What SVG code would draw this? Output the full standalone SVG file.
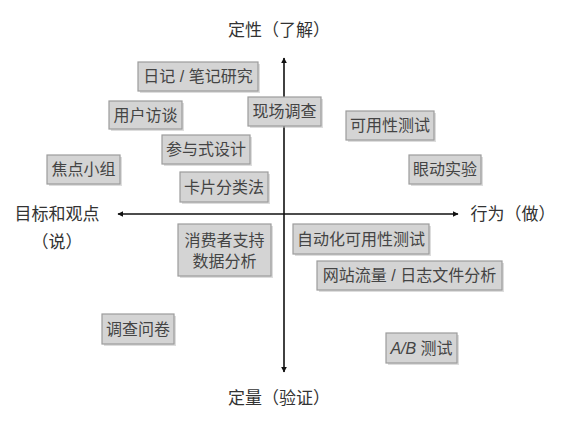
<svg xmlns="http://www.w3.org/2000/svg" width="569" height="428" viewBox="0 0 569 428">
<style>
.box rect.b{fill:#d4d4d4;stroke:#9c9c9c;stroke-width:1.2}
.box rect.s{fill:#bcbcbc;opacity:0.5}
.box text{font-family:"Liberation Sans","Noto Sans CJK SC",sans-serif;font-size:16px;fill:#444;text-anchor:middle;dominant-baseline:central}
.lbl{font-family:"Liberation Sans","Noto Sans CJK SC",sans-serif;font-size:17px;fill:#333;text-anchor:middle;dominant-baseline:central}
.ax{stroke:#111;stroke-width:1.6;fill:none}
</style>
<defs>
<marker id="ah" viewBox="0 0 10 10" refX="9" refY="5" markerWidth="6" markerHeight="6" markerUnits="userSpaceOnUse" orient="auto">
<path d="M0,0 L10,5 L0,10 Z" fill="#111"/>
</marker>
</defs>
<rect width="569" height="428" fill="#fff"/>
<g id="connectors">
<line class="ax" x1="284" y1="214" x2="284" y2="58" marker-end="url(#ah)"/>
<line class="ax" x1="284" y1="214" x2="284" y2="372" marker-end="url(#ah)"/>
<line class="ax" x1="284" y1="214" x2="118" y2="214" marker-end="url(#ah)"/>
<line class="ax" x1="284" y1="214" x2="458" y2="214" marker-end="url(#ah)"/>
</g>
<g id="labels">
<text class="lbl" x="279" y="30">定性（了解）</text>
<text class="lbl" x="279" y="398">定量（验证）</text>
<text class="lbl" x="57" y="214">目标和观点</text>
<text class="lbl" x="57" y="242">（说）</text>
<text class="lbl" x="513" y="214">行为（做）</text>
</g>
<g id="n1" class="box"><rect class="s" x="140" y="64" width="120" height="29"/><rect class="b" x="138" y="62" width="120" height="29"/><text x="198" y="76.5">日记 / 笔记研究</text></g>
<g id="n2" class="box"><rect class="s" x="111" y="103" width="73" height="28"/><rect class="b" x="109" y="101" width="73" height="28"/><text x="145.5" y="115">用户访谈</text></g>
<g id="n3" class="box"><rect class="s" x="250" y="99" width="73" height="29"/><rect class="b" x="248" y="97" width="73" height="29"/><text x="284.5" y="111.5">现场调查</text></g>
<g id="n4" class="box"><rect class="s" x="164" y="137" width="88" height="29"/><rect class="b" x="162" y="135" width="88" height="29"/><text x="206" y="149.5">参与式设计</text></g>
<g id="n5" class="box"><rect class="s" x="49" y="157" width="73" height="29"/><rect class="b" x="47" y="155" width="73" height="29"/><text x="83.5" y="169.5">焦点小组</text></g>
<g id="n6" class="box"><rect class="s" x="182" y="174" width="88" height="30"/><rect class="b" x="180" y="172" width="88" height="30"/><text x="224" y="187">卡片分类法</text></g>
<g id="n7" class="box"><rect class="s" x="348" y="113" width="88" height="29"/><rect class="b" x="346" y="111" width="88" height="29"/><text x="390" y="125.5">可用性测试</text></g>
<g id="n8" class="box"><rect class="s" x="411" y="157" width="72" height="29"/><rect class="b" x="409" y="155" width="72" height="29"/><text x="445" y="169.5">眼动实验</text></g>
<g id="n9" class="box"><rect class="s" x="180" y="226" width="93" height="52"/><rect class="b" x="178" y="224" width="93" height="52"/><text x="224.5" y="240">消费者支持</text><text x="224.5" y="261">数据分析</text></g>
<g id="n10" class="box"><rect class="s" x="104" y="316" width="72" height="30"/><rect class="b" x="102" y="314" width="72" height="30"/><text x="138" y="329">调查问卷</text></g>
<g id="n11" class="box"><rect class="s" x="295" y="226" width="136" height="30"/><rect class="b" x="293" y="224" width="136" height="30"/><text x="361" y="239">自动化可用性测试</text></g>
<g id="n12" class="box"><rect class="s" x="319" y="263" width="185" height="29"/><rect class="b" x="317" y="261" width="185" height="29"/><text x="409.5" y="275.5">网站流量 / 日志文件分析</text></g>
<g id="n13" class="box"><rect class="s" x="388" y="335" width="71" height="30"/><rect class="b" x="386" y="333" width="71" height="30"/><text x="421.5" y="348"><tspan font-style="italic">A/B</tspan> 测试</text></g>
</svg>
